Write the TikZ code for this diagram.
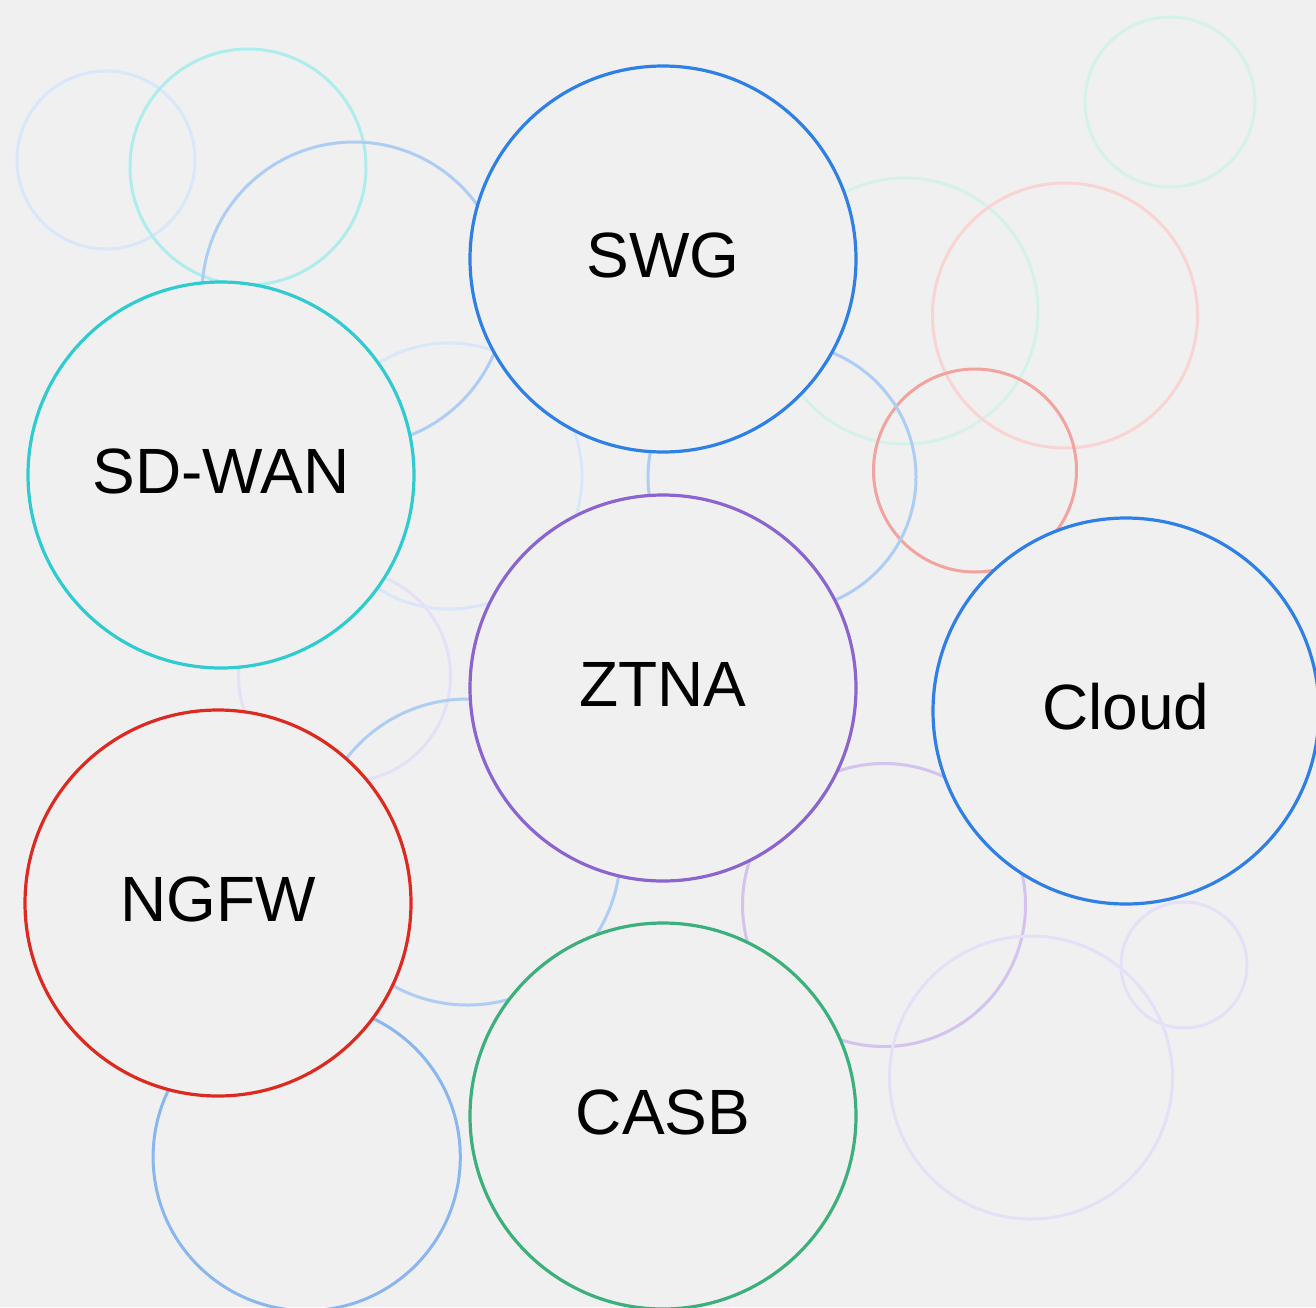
\documentclass[tikz,border=0pt]{standalone}
\usepackage{fontspec}
\setmainfont{Liberation Sans}
\definecolor{bg}{HTML}{F0F0F0}
\definecolor{cblue}{HTML}{2F80E6}
\definecolor{cteal}{HTML}{2ECBD0}
\definecolor{cpurple}{HTML}{8B64D0}
\definecolor{cred}{HTML}{DD2A20}
\definecolor{cgreen}{HTML}{3BB07A}
\definecolor{fblueA}{HTML}{D9E7FA}
\definecolor{fblueB}{HTML}{AECDF4}
\definecolor{fblueC}{HTML}{8AB6F0}
\definecolor{fcyan}{HTML}{AEECEE}
\definecolor{fmint}{HTML}{D5F2E8}
\definecolor{fpink}{HTML}{F9D4D2}
\definecolor{fsalmon}{HTML}{F2A39D}
\definecolor{flavA}{HTML}{D3C3EE}
\definecolor{flavB}{HTML}{E6DFF8}
\begin{document}
\begin{tikzpicture}[x=0.5pt,y=-0.5pt,
  ring/.style={line width=1.5pt},
  hub/.style={circle, draw, line width=1.6pt, fill=bg, inner sep=0pt,
    minimum size=193pt},
  lbl/.style={inner sep=0pt, font=\fontsize{32pt}{38pt}\selectfont, text=black}]
\useasboundingbox (0,0) rectangle (1316,1307);
\fill[bg] (0,0) rectangle (1316,1307);
\clip (0,0) rectangle (1316,1307);

% background rings
\draw[ring, fblueA]  (106,160)     circle (89);
\draw[ring, fcyan]   (248,167)     circle (118);
\draw[ring, fblueB]  (354,294)     circle (152);
\draw[ring, fblueA]  (449,476)     circle (133);
\draw[ring, fmint]   (905,311)     circle (133);
\draw[ring, fpink]   (1065,315.5)  circle (132.5);
\draw[ring, fmint]   (1170,102)    circle (85);
\draw[ring, fsalmon] (975,470.5)   circle (101.5);
\draw[ring, fblueB]  (782,477)     circle (134);
\draw[ring, flavB]   (344.5,676)   circle (106);
\draw[ring, fblueB]  (467.5,852)   circle (153);
\draw[ring, flavA]   (884,905)     circle (141.5);
\draw[ring, flavB]   (1031,1077.5) circle (141.5);
\draw[ring, flavB]   (1184,965)    circle (63);
\draw[ring, fblueC]  (306.7,1157)  circle (153.6);

% main bubbles
\node[hub, draw=cblue]   (swg)   at (663,259)  {};
\node[hub, draw=cteal]   (sdwan) at (221,475)  {};
\node[hub, draw=cpurple] (ztna)  at (663,688)  {};
\node[hub, draw=cblue]   (cloud) at (1126,711) {};
\node[hub, draw=cred]    (ngfw)  at (218,903)  {};
\node[hub, draw=cgreen]  (casb)  at (663,1116) {};

\node[lbl] (swg-t)   at ([yshift=2pt]swg.center)   {SWG};
\node[lbl] (sdwan-t) at ([yshift=2pt]sdwan.center) {SD-WAN};
\node[lbl] (ztna-t)  at ([yshift=2pt]ztna.center)  {ZTNA};
\node[lbl] (cloud-t) at ([yshift=2pt]cloud.center) {Cloud};
\node[lbl] (ngfw-t)  at ([yshift=2pt]ngfw.center)  {NGFW};
\node[lbl] (casb-t)  at ([yshift=2pt]casb.center)  {CASB};
\end{tikzpicture}
\end{document}
